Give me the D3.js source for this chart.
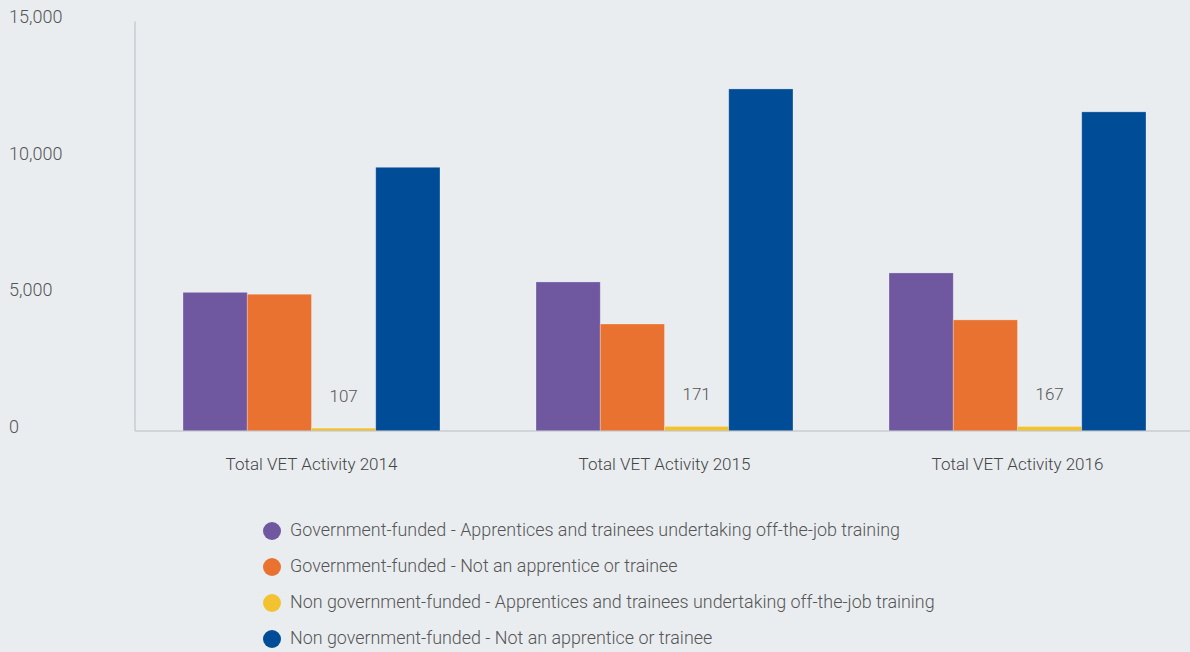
<!DOCTYPE html>
<html>
<head>
<meta charset="utf-8">
<script src="https://cdn.jsdelivr.net/npm/d3@7"></script>
<style>
  html, body { margin: 0; padding: 0; background: #e9edf0; }
  svg { display: block; font-family: Roboto, "Open Sans", sans-serif; font-weight: 300; }
</style>
</head>
<body>
<script>
// categories and series
const groups = ["Total VET Activity 2014", "Total VET Activity 2015", "Total VET Activity 2016"];
const seriesNames = [
  "Government-funded - Apprentices and trainees undertaking off-the-job training",
  "Government-funded - Not an apprentice or trainee",
  "Non government-funded - Apprentices and trainees undertaking off-the-job training",
  "Non government-funded - Not an apprentice or trainee"
];
const govApprentice = [5080, 5460, 5790];
const govNotApprentice = [5010, 3920, 4070];
const nonGovApprentice = [107, 171, 167];
const nonGovNotApprentice = [9660, 12530, 11690];
const yTicks = [0, 5000, 10000, 15000];
const colors = ["#6f58a0", "#e97230", "#f2c230", "#004c97"];

const seriesValues = [govApprentice, govNotApprentice, nonGovApprentice, nonGovNotApprentice];
// only the small series gets a value label
const labelled = [false, false, true, false];

const width = 1190;
const height = 652;
const marginLeft = 135;
const zeroY = 431;
const topY = 21.5;

const svg = d3.select("body").append("svg")
    .attr("width", width)
    .attr("height", height)
    .attr("viewBox", [0, 0, width, height]);

const x0 = d3.scaleBand()
    .domain(groups)
    .range([marginLeft, 1194])
    .paddingInner(0.272)
    .paddingOuter(0.136);

const x1 = d3.scaleBand()
    .domain(d3.range(seriesNames.length))
    .range([0, x0.bandwidth()]);

const y = d3.scaleLinear()
    .domain([0, 15000])
    .range([zeroY, topY]);

// y tick labels, left aligned at the page edge
svg.append("g")
    .attr("fill", "#555")
    .attr("font-size", 18)
  .selectAll("text")
  .data(yTicks)
  .join("text")
    .attr("x", 9)
    .attr("y", d => y(d) - 4)
    .attr("dy", "0.32em")
    .text(d => d3.format(",")(d));

// bars
const bars = svg.append("g")
  .selectAll("g")
  .data(groups)
  .join("g")
    .attr("transform", g => `translate(${x0(g)},0)`);

bars.selectAll("rect")
  .data((g, gi) => seriesValues.map((vals, si) => ({si, v: vals[gi]})))
  .join("rect")
    .attr("x", d => x1(d.si))
    .attr("y", d => y(d.v))
    .attr("width", x1.bandwidth())
    .attr("height", d => y(0) - y(d.v))
    .attr("fill", d => colors[d.si])
    .attr("stroke", "rgba(255,255,255,0.35)")
    .attr("stroke-width", 0.8);

bars.selectAll("text")
  .data((g, gi) => seriesValues.map((vals, si) => ({si, v: vals[gi]})).filter(d => labelled[d.si]))
  .join("text")
    .attr("x", d => x1(d.si) + x1.bandwidth() / 2)
    .attr("y", d => y(d.v) - 26)
    .attr("text-anchor", "middle")
    .attr("fill", "#555")
    .attr("font-size", 17)
    .text(d => d.v);

// axis lines
svg.append("line")
    .attr("x1", marginLeft).attr("x2", marginLeft)
    .attr("y1", topY).attr("y2", zeroY)
    .attr("stroke", "#b9bdc1");
svg.append("line")
    .attr("x1", marginLeft).attr("x2", width)
    .attr("y1", zeroY).attr("y2", zeroY)
    .attr("stroke", "#b9bdc1")
    .attr("stroke-width", 1.2);

// category labels
svg.append("g")
    .attr("fill", "#444")
    .attr("font-size", 17)
    .attr("text-anchor", "middle")
  .selectAll("text")
  .data(groups)
  .join("text")
    .attr("x", g => x0(g) + x0.bandwidth() / 2)
    .attr("y", 465)
    .attr("dy", "0.32em")
    .text(g => g);

// legend
const legend = svg.append("g")
    .attr("transform", "translate(272,530)")
  .selectAll("g")
  .data(seriesNames)
  .join("g")
    .attr("transform", (d, i) => `translate(0,${i * 36})`);

legend.append("circle")
    .attr("r", 9)
    .attr("cy", 1)
    .attr("fill", (d, i) => colors[i]);

legend.append("text")
    .attr("x", 18)
    .attr("dy", "0.32em")
    .attr("fill", "#555")
    .attr("font-size", 17.9)
    .text(d => d);
</script>
</body>
</html>
